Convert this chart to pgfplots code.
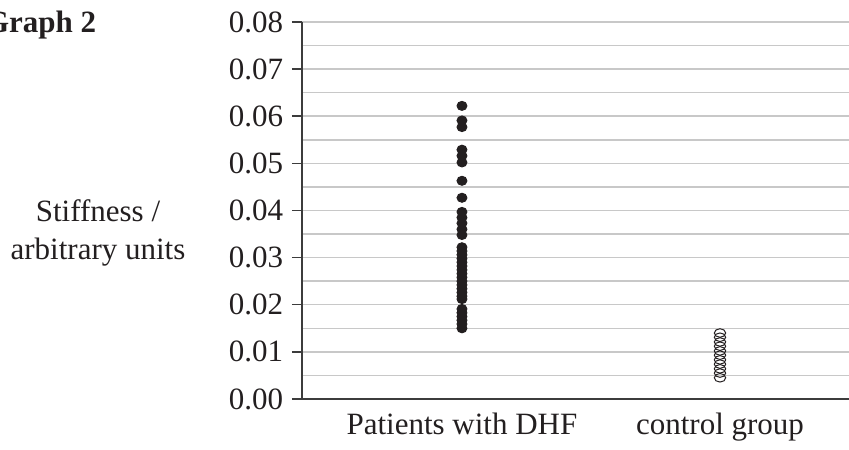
\documentclass[border=0pt]{standalone}
\usepackage{pgfplots}
\pgfplotsset{compat=1.18}
\usepackage{fontspec}
\setmainfont{Liberation Serif}
\newcommand\f{\fontsize{12.4}{15.2}\selectfont}
\definecolor{ink}{RGB}{35,31,32}
\definecolor{gridgray}{RGB}{200,200,200}
\definecolor{axisgray}{RGB}{60,60,60}

\begin{document}
\begin{tikzpicture}[font=\f]
\begin{axis}[
    scale only axis,
    width=218.8pt,
    height=150.8pt,
    xmin=0.38, xmax=2.5,
    ymin=0, ymax=0.08,
    axis lines*=left,
    axis line style={axisgray, line width=0.6pt},
    xtick=\empty,
    extra x ticks={1,2},
    extra x tick labels={Patients with DHF, control group},
    extra x tick style={major tick length=0pt, tick style={draw=none}},
    xticklabel style={yshift=-2.2pt, text=ink},
    ytick={0,0.01,0.02,0.03,0.04,0.05,0.06,0.07,0.08},
    minor ytick={0.005,0.015,0.025,0.035,0.045,0.055,0.065,0.075},
    scaled y ticks=false,
    yticklabel style={text=ink, /pgf/number format/.cd, fixed, fixed zerofill, precision=2, assume math mode=true},
    tick align=outside,
    major tick length=4pt,
    minor tick length=0pt,
    tick style={axisgray, line width=0.6pt},
    ymajorgrids, yminorgrids,
    major grid style={gridgray, line width=0.6pt},
    minor grid style={gridgray, line width=0.6pt},
    clip=false,
]

% patients with DHF
\addplot[only marks, mark=*, mark size=1.8pt, mark options={xscale=1.1}, color=ink] coordinates {
    (1, 0.0622)
    (1, 0.0591) (1, 0.0577)
    (1, 0.0529) (1, 0.0516) (1, 0.0502)
    (1, 0.0463)
    (1, 0.0427)
    (1, 0.0397) (1, 0.0385) (1, 0.0373) (1, 0.0360) (1, 0.0348)
    (1, 0.0322) (1, 0.0314) (1, 0.0306) (1, 0.0298) (1, 0.0290)
    (1, 0.0282) (1, 0.0274) (1, 0.0266) (1, 0.0258) (1, 0.0250)
    (1, 0.0242) (1, 0.0234) (1, 0.0226) (1, 0.0218) (1, 0.0212)
    (1, 0.0191) (1, 0.0183) (1, 0.0175) (1, 0.0167) (1, 0.0159) (1, 0.0150)
};

% control group
\addplot[only marks, mark=o, mark size=1.9pt,
    mark options={xscale=1.2, yscale=0.9, fill=white, draw=ink, line width=0.4pt}] coordinates {
    (2, 0.0140) (2, 0.0131) (2, 0.0121) (2, 0.0112) (2, 0.0102)
    (2, 0.0093) (2, 0.0083) (2, 0.0074) (2, 0.0064) (2, 0.0055) (2, 0.0045)
};

\coordinate (sw) at (rel axis cs:0,0);
\coordinate (nw) at (rel axis cs:0,1);
\coordinate (ne) at (rel axis cs:1,1);
\end{axis}

\node[anchor=base east, font=\f\bfseries, text=ink] at ([xshift=-78.8pt, yshift=-4.2pt]nw) {Graph 2};
\node[align=center, text=ink] at ([xshift=-81.6pt, yshift=66.4pt]sw) {Stiffness /\\arbitrary units};

\pgfresetboundingbox
\path ([xshift=-120.8pt, yshift=-20.4pt]sw) rectangle ([yshift=8.8pt]ne);
\end{tikzpicture}
\end{document}
